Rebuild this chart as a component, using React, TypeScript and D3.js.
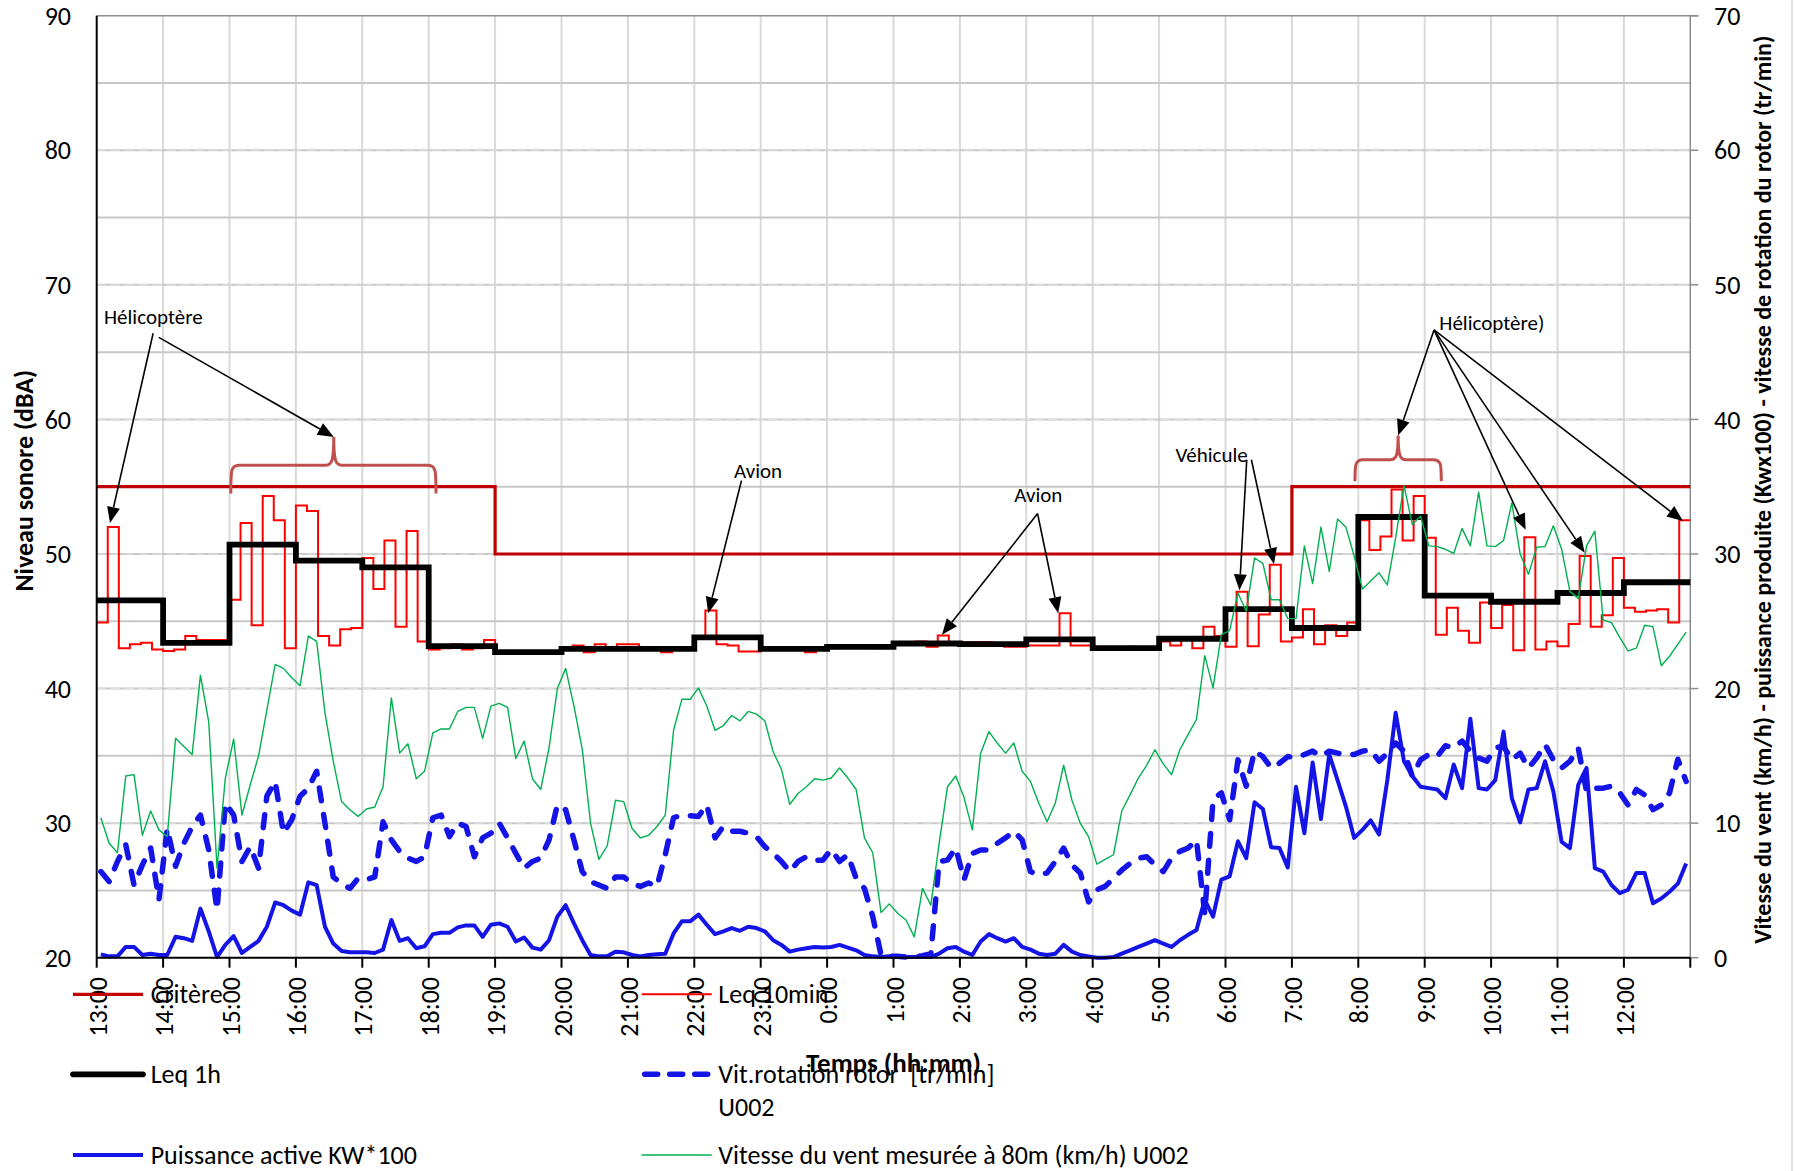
import React from "react";
import * as d3 from "d3";

// Hour labels along the time axis (24 h starting at 13:00)
const hourLabels = [
  "13:00", "14:00", "15:00", "16:00", "17:00", "18:00", "19:00", "20:00",
  "21:00", "22:00", "23:00", "0:00", "1:00", "2:00", "3:00", "4:00",
  "5:00", "6:00", "7:00", "8:00", "9:00", "10:00", "11:00", "12:00",
];

// Regulatory limit, one value per hour (dBA)
const critere = [
  55, 55, 55, 55, 55, 55,
  50, 50, 50, 50, 50, 50, 50, 50, 50, 50, 50, 50,
  55, 55, 55, 55, 55, 55,
];

// Hourly equivalent level (dBA)
const leq1h = [
  46.55, 43.4, 50.7, 49.5, 49.0, 43.15, 42.7, 42.95, 42.95, 43.8, 42.95, 43.1,
  43.35, 43.3, 43.65, 43.0, 43.7, 45.9, 44.5, 52.75, 46.9, 46.45, 47.1, 47.9,
];

// 10-minute equivalent level (dBA), six values per hour
const leq10min = [
  44.9, 52.0, 43.0, 43.3, 43.4, 42.9,
  42.8, 42.9, 43.9, 43.6, 43.6, 43.6,
  46.6, 52.3, 44.7, 54.3, 52.5, 43.0,
  53.6, 53.2, 43.9, 43.2, 44.4, 44.5,
  49.7, 47.4, 51.0, 44.6, 51.7, 43.5,
  42.9, 43.0, 43.3, 42.9, 43.0, 43.6,
  42.6, 42.7, 42.8, 42.7, 42.6, 42.8,
  43.0, 43.2, 42.7, 43.3, 42.9, 43.3,
  43.3, 43.0, 42.9, 42.7, 42.9, 42.9,
  43.9, 45.8, 43.3, 43.2, 42.75, 42.75,
  42.9, 42.9, 43.0, 42.9, 42.7, 42.9,
  43.0, 43.1, 43.1, 43.1, 43.0, 43.1,
  43.4, 43.4, 43.5, 43.1, 43.95, 43.45,
  43.45, 43.45, 43.45, 43.3, 43.1, 43.1,
  43.2, 43.2, 43.2, 45.6, 43.2, 43.2,
  43.0, 42.9, 43.0, 43.1, 42.9, 43.0,
  43.5, 43.2, 43.7, 43.0, 44.6, 43.9,
  43.1, 47.2, 43.15, 45.5, 49.2, 43.5,
  43.8, 45.9, 43.3, 44.7, 43.9, 44.9,
  52.5, 50.3, 51.3, 54.8, 51.0, 54.3,
  51.2, 44.0, 46.0, 44.3, 43.4, 46.4,
  44.5, 46.2, 42.85, 51.25, 42.9, 43.5,
  43.15, 44.8, 49.85, 44.6, 45.45, 49.7,
  46.0, 45.7, 45.8, 45.9, 44.9, 52.5,
];

// Turbine U002 records (secondary axis), 192 samples across the day
const rotorSpeed = [
  6.4, 5.65, 7.15, 8.4, 5.4, 6.9, 8.15, 4.3, 9.6, 6.8, 8.5, 9.75, 10.6, 8.0, 3.55, 11.5,
  10.6, 7.15, 8.25, 6.65, 12.0, 13.1, 9.25, 10.25, 12.0, 12.6, 13.85, 10.0, 6.0, 5.5, 5.15, 5.9, 5.8,
  6.0, 10.1, 8.75, 7.9, 7.4, 7.15, 7.5, 10.4, 10.6, 9.0, 10.0, 9.75, 7.5, 8.9, 9.25, 10.0,
  8.9, 7.75, 6.65, 7.15, 7.4, 8.75, 11.35, 11.0, 8.75, 6.4, 5.65, 5.4, 5.15, 6.0, 6.0, 5.5,
  5.3, 5.55, 5.3, 7.65, 10.4, 10.6, 10.55, 10.5, 11.35, 8.9, 9.75, 9.4, 9.4, 9.25, 9.0, 8.25,
  7.75, 7.15, 6.4, 7.15, 7.5, 7.25, 7.25, 8.05, 7.15, 7.65, 5.9, 5.15, 3.05, 0.2, 0.1, 0.1,
  0.05, 0.05, 0.15, 0.3, 7.15, 7.25, 8.15, 5.8, 7.75, 8.0, 8.0, 8.5, 8.9, 9.4, 8.75, 6.4,
  6.15, 6.3, 7.15, 8.15, 6.9, 6.3, 4.15, 5.05, 5.3, 5.9, 6.5, 7.0, 7.4, 7.5, 6.9, 6.4,
  7.4, 7.9, 8.15, 8.75, 3.3, 11.75, 12.25, 10.25, 14.7, 12.75, 15.35, 14.95, 14.1, 14.45, 14.95, 14.85,
  15.1, 15.35, 14.95, 15.35, 15.2, 15.1, 15.1, 15.35, 15.45, 14.6, 15.2, 15.95, 15.35, 13.5, 14.7, 15.1,
  14.95, 15.75, 15.6, 16.1, 15.35, 14.85, 14.6, 15.6, 15.7, 14.7, 15.2, 14.1, 14.85, 15.85, 14.7, 14.1,
  14.6, 15.6, 12.35, 12.6, 12.6, 12.75, 12.25, 11.35, 12.5, 12.1, 11.0, 11.35, 12.25, 14.75, 13.1,
];

const activePower = [
  0.25, 0.1, 0.1, 0.8, 0.8, 0.2, 0.3, 0.2, 0.2, 1.55, 1.45, 1.25, 3.65, 1.95, 0.05, 0.95,
  1.6, 0.35, 0.8, 1.25, 2.3, 4.1, 3.9, 3.5, 3.2, 5.6, 5.4, 2.3, 1.05, 0.5, 0.4, 0.4, 0.4,
  0.35, 0.6, 2.8, 1.25, 1.45, 0.7, 0.85, 1.75, 1.85, 1.85, 2.25, 2.4, 2.4, 1.55, 2.45, 2.55,
  2.3, 1.2, 1.5, 0.75, 0.6, 1.3, 3.05, 3.9, 2.55, 1.3, 0.2, 0.1, 0.1, 0.45, 0.4, 0.2,
  0.1, 0.2, 0.25, 0.3, 1.8, 2.7, 2.7, 3.2, 2.45, 1.75, 1.95, 2.2, 2.0, 2.3, 2.2, 1.95,
  1.3, 0.95, 0.45, 0.6, 0.7, 0.8, 0.75, 0.8, 0.95, 0.75, 0.55, 0.2, 0.1, 0.05, 0.1, 0.05,
  0.05, 0.05, 0.05, 0.05, 0.3, 0.7, 0.8, 0.45, 0.2, 1.2, 1.75, 1.45, 1.2, 1.45, 0.8, 0.6,
  0.3, 0.2, 0.3, 0.95, 0.45, 0.2, 0.1, 0.0, 0.0, 0.05, 0.3, 0.55, 0.8, 1.05, 1.3, 1.05,
  0.8, 1.3, 1.7, 2.05, 4.3, 3.05, 5.8, 6.05, 8.65, 7.4, 11.55, 11.05, 8.2, 8.15, 6.7, 12.7,
  9.25, 14.5, 10.3, 15.1, 13.2, 11.25, 8.9, 9.5, 10.2, 9.15, 13.2, 18.2, 14.6, 13.5, 12.7, 12.6,
  12.5, 11.85, 14.35, 12.6, 17.75, 12.6, 12.5, 13.2, 16.8, 11.85, 10.05, 12.5, 12.6, 14.6, 12.35, 8.6,
  8.15, 12.85, 14.1, 6.65, 6.4, 5.4, 4.8, 5.05, 6.3, 6.3, 4.05, 4.4, 4.9, 5.5, 7.0,
];

const windSpeed = [
  10.4, 8.5, 7.8, 13.5, 13.6, 9.1, 10.9, 9.5, 9.0, 16.3, 15.7, 15.1, 21.0, 17.5, 6.65, 13.35,
  16.25, 10.6, 12.85, 15.0, 18.4, 21.8, 21.5, 20.8, 20.2, 23.9, 23.5, 18.2, 14.6, 11.6, 11.0, 10.5, 11.05,
  11.2, 12.7, 19.3, 15.2, 15.9, 13.3, 13.85, 16.7, 17.0, 17.0, 18.3, 18.6, 18.6, 16.3, 18.7, 18.9,
  18.6, 14.8, 16.1, 13.3, 12.5, 15.6, 20.0, 21.5, 18.7, 15.5, 10.0, 7.3, 8.3, 11.7, 11.6, 9.6,
  8.9, 9.1, 9.75, 10.6, 16.9, 19.2, 19.2, 20.05, 18.7, 16.9, 17.25, 18.0, 17.6, 18.3, 18.1, 17.6,
  15.3, 14.0, 11.4, 12.2, 12.7, 13.3, 13.2, 13.35, 14.1, 13.35, 12.5, 8.9, 7.8, 3.35, 4.0, 3.3,
  2.8, 1.55, 5.15, 3.9, 8.5, 12.7, 13.5, 11.9, 9.5, 15.2, 16.8, 15.95, 15.2, 15.95, 13.85, 13.1,
  11.5, 10.1, 11.5, 14.3, 11.7, 10.0, 9.0, 6.95, 7.3, 7.65, 10.9, 12.1, 13.35, 14.3, 15.45, 14.4,
  13.6, 15.45, 16.6, 17.7, 22.45, 20.05, 24.0, 24.3, 27.1, 25.75, 29.7, 29.3, 26.6, 26.6, 25.2, 25.2,
  30.6, 27.8, 32.0, 28.7, 32.6, 32.0, 29.85, 27.4, 28.0, 28.6, 27.7, 31.2, 35.1, 32.2, 32.8, 30.6,
  30.55, 30.35, 30.05, 31.9, 30.6, 34.6, 30.6, 30.55, 31.0, 33.8, 30.0, 28.5, 30.5, 30.55, 32.1, 30.35,
  27.2, 26.7, 30.6, 31.7, 25.1, 24.9, 23.8, 22.8, 23.0, 24.7, 24.6, 21.7, 22.4, 23.3, 24.2,
];

// Event notes: label position and arrows, in (hours since 13:00, dBA)
const noteLabels = [
  { text: "Hélicoptère", h: 0.11, v: 67.6, anchor: "start" },
  { text: "Avion", h: 9.96, v: 56.2, anchor: "middle" },
  { text: "Avion", h: 14.18, v: 54.4, anchor: "middle" },
  { text: "Véhicule", h: 16.79, v: 57.4, anchor: "middle" },
  { text: "Hélicoptère)", h: 20.22, v: 67.2, anchor: "start" },
];
const noteArrows = [
  [0.85, 66.4, 0.2, 52.3],
  [0.935, 66.1, 3.57, 58.7],
  [9.71, 55.45, 9.21, 45.6],
  [14.17, 53.0, 12.73, 44.0],
  [14.17, 53.0, 14.48, 45.6],
  [17.32, 57.0, 17.21, 47.3],
  [17.39, 57.0, 17.73, 49.25],
  [20.14, 66.65, 19.6, 58.8],
  [20.14, 66.65, 21.52, 51.8],
  [20.14, 66.65, 22.41, 50.1],
  [20.14, 66.65, 23.89, 52.45],
];
const braces = [
  { h0: 2.02, h1: 5.11, hm: 3.57, vLine: 56.6, vEnd: 54.5, vTip: 58.7 },
  { h0: 18.95, h1: 20.25, hm: 19.6, vLine: 57.0, vEnd: 55.4, vTip: 58.8 },
];

const W = 1795;
const H = 1171;
const PLOT = { left: 96.7, right: 1690.3, top: 15.7, bottom: 957.7 };
const FONT = "Carlito, Lato, 'Open Sans', sans-serif";

const C_CRIT = "#C00000";
const C_LEQ10 = "#FF0000";
const C_BLUE = "#1414E6";
const C_WIND = "#00B050";
const C_BRACE = "#C0504D";

function Arrow({ x1, y1, x2, y2 }: { x1: number; y1: number; x2: number; y2: number }) {
  const a = Math.atan2(y2 - y1, x2 - x1);
  const len = 16;
  const hw = 6.5;
  const bx = x2 - len * Math.cos(a);
  const by = y2 - len * Math.sin(a);
  const p1 = [bx + hw * Math.sin(a), by - hw * Math.cos(a)];
  const p2 = [bx - hw * Math.sin(a), by + hw * Math.cos(a)];
  return (
    <g>
      <line x1={x1} y1={y1} x2={bx} y2={by} stroke="#000" strokeWidth={1.6} />
      <polygon points={`${x2},${y2} ${p1[0]},${p1[1]} ${p2[0]},${p2[1]}`} fill="#000" />
    </g>
  );
}

export default function App() {
  const x = d3.scaleLinear().domain([0, 24]).range([PLOT.left, PLOT.right]);
  const yL = d3.scaleLinear().domain([20, 90]).range([PLOT.bottom, PLOT.top]);
  const yR = d3.scaleLinear().domain([0, 70]).range([PLOT.bottom, PLOT.top]);

  const stepPath = (values: number[], perHour: number) => {
    const pts: [number, number][] = values.map((v, i) => [x(i / perHour), yL(v)]);
    pts.push([x(24), yL(values[values.length - 1])]);
    return d3.line().curve(d3.curveStepAfter)(pts) || "";
  };
  const n = rotorSpeed.length;
  const turbinePath = (values: number[]) =>
    d3
      .line<number>()
      .x((_, i) => x(((i + 0.5) * 24) / n))
      .y((v) => yR(v))(values) || "";

  const hGrid = d3.range(25, 90, 5);
  const hourTicks = d3.range(0, 25, 1);
  const leftTicks = d3.range(20, 91, 10);
  const rightTicks = d3.range(0, 71, 10);

  const bracePath = (b: typeof braces[number]) => {
    const x0 = x(b.h0), x1 = x(b.h1), xm = x(b.hm);
    const yl = yL(b.vLine), ye = yL(b.vEnd), yt = yL(b.vTip);
    const r = 8;
    return [
      `M${x0},${ye}`,
      `C${x0},${yl + 5} ${x0},${yl} ${x0 + r},${yl}`,
      `L${xm - r},${yl}`,
      `C${xm - 2},${yl} ${xm},${yl - 4} ${xm},${yt}`,
      `M${xm},${yt}`,
      `C${xm},${yl - 4} ${xm + 2},${yl} ${xm + r},${yl}`,
      `L${x1 - r},${yl}`,
      `C${x1},${yl} ${x1},${yl + 5} ${x1},${ye}`,
    ].join(" ");
  };

  const legendLeftX = 73;
  const legendRightX = 641.7;
  const legendLen = 70;
  const rowY = [994.3, 1074.3, 1155];
  const LEG_FS = 26;
  const TICK_FS = 26;

  return (
    <svg
      width={W}
      height={H}
      viewBox={`0 0 ${W} ${H}`}
      style={{ position: "absolute", left: 0, top: 0, background: "#fff", fontFamily: FONT }}
    >
      <rect x={0} y={0} width={W} height={H} fill="#fff" />
      <line x1={1792} y1={0} x2={1792} y2={H} stroke="#d9d9d9" strokeWidth={1.5} />

      {/* gridlines */}
      {hourTicks.slice(1, 24).map((h) => (
        <line key={`vg${h}`} x1={x(h)} x2={x(h)} y1={PLOT.top} y2={PLOT.bottom} stroke="#d9d9d9" strokeWidth={2} />
      ))}
      {hGrid.map((v) => (
        <line key={`hg${v}`} x1={PLOT.left} x2={PLOT.right} y1={yL(v)} y2={yL(v)} stroke="#c8c8c8" strokeWidth={2} />
      ))}
      {hGrid.filter((v) => v % 10 === 0).map((v) => (
        <line key={`hd${v}`} x1={PLOT.left} x2={PLOT.right} y1={yL(v)} y2={yL(v)} stroke="#e2e2e2" strokeWidth={1} strokeDasharray="9 5" />
      ))}
      <line x1={PLOT.left} x2={PLOT.right + 8} y1={PLOT.top} y2={PLOT.top} stroke="#8c8c8c" strokeWidth={1.5} />

      {/* right axis */}
      <line x1={PLOT.right} x2={PLOT.right} y1={PLOT.top} y2={PLOT.bottom} stroke="#8c8c8c" strokeWidth={1.5} />
      {rightTicks.map((v) => (
        <g key={`rt${v}`}>
          <line x1={PLOT.right} x2={PLOT.right + 8} y1={yR(v)} y2={yR(v)} stroke="#8c8c8c" strokeWidth={1.5} />
          <text x={1714} y={yR(v)} dy="0.35em" fontSize={TICK_FS} fill="#000">{v}</text>
        </g>
      ))}

      {/* series */}
      <path d={stepPath(critere, 1)} fill="none" stroke={C_CRIT} strokeWidth={3.2} />
      <path d={stepPath(leq10min, 6)} fill="none" stroke={C_LEQ10} strokeWidth={2} />
      <path d={stepPath(leq1h, 1)} fill="none" stroke="#000" strokeWidth={5.8} />
      <path
        d={turbinePath(rotorSpeed)}
        fill="none"
        stroke={C_BLUE}
        strokeWidth={5.5}
        strokeDasharray="13 14"
        strokeLinecap="round"
        strokeLinejoin="round"
      />
      <path d={turbinePath(activePower)} fill="none" stroke={C_BLUE} strokeWidth={4} strokeLinejoin="round" />
      <path d={turbinePath(windSpeed)} fill="none" stroke={C_WIND} strokeWidth={1.4} strokeLinejoin="round" />

      {/* left and bottom axes */}
      <line x1={PLOT.left} x2={PLOT.left} y1={PLOT.top} y2={PLOT.bottom} stroke="#000" strokeWidth={2} />
      <line x1={PLOT.left} x2={PLOT.right} y1={PLOT.bottom} y2={PLOT.bottom} stroke="#000" strokeWidth={2} />
      {hourTicks.map((h) => (
        <line key={`xt${h}`} x1={x(h)} x2={x(h)} y1={PLOT.bottom} y2={PLOT.bottom + 10} stroke="#000" strokeWidth={2} />
      ))}
      {leftTicks.map((v) => (
        <text key={`lt${v}`} x={71} y={yL(v)} dy="0.35em" fontSize={TICK_FS} textAnchor="end" fill="#000">{v}</text>
      ))}
      {hourLabels.map((lab, i) => (
        <text
          key={`xl${i}`}
          transform={`translate(${x(i) + 1},977) rotate(-90)`}
          textAnchor="end"
          dy="0.35em"
          fontSize={TICK_FS}
          fill="#000"
        >
          {lab}
        </text>
      ))}

      {/* axis titles */}
      <text
        transform={`translate(24,${(PLOT.top + PLOT.bottom) / 2 - 6}) rotate(-90)`}
        textAnchor="middle"
        dy="0.35em"
        fontSize={26}
        fontWeight="bold"
      >
        Niveau sonore (dBA)
      </text>
      <text
        transform={`translate(1763,${(PLOT.top + PLOT.bottom) / 2 + 3}) rotate(-90)`}
        textAnchor="middle"
        dy="0.35em"
        fontSize={24}
        fontWeight="bold"
      >
        Vitesse du vent (km/h) - puissance produite (Kwx100) - vitesse de rotation du rotor (tr/min)
      </text>

      {/* event notes */}
      {braces.map((b, i) => (
        <path key={`br${i}`} d={bracePath(b)} fill="none" stroke={C_BRACE} strokeWidth={3} />
      ))}
      {noteArrows.map((a, i) => (
        <Arrow key={`ar${i}`} x1={x(a[0])} y1={yL(a[1])} x2={x(a[2])} y2={yL(a[3])} />
      ))}
      {noteLabels.map((l, i) => (
        <text key={`nl${i}`} x={x(l.h)} y={yL(l.v)} dy="0.35em" fontSize={21} textAnchor={l.anchor as any} fill="#000">
          {l.text}
        </text>
      ))}

      {/* legend */}
      <g fontSize={LEG_FS} fill="#000">
        <line x1={legendLeftX} x2={legendLeftX + legendLen} y1={rowY[0]} y2={rowY[0]} stroke={C_CRIT} strokeWidth={3.2} />
        <text x={150.7} y={rowY[0]} dy="0.35em">Critère</text>
        <line x1={legendRightX} x2={legendRightX + legendLen} y1={rowY[0]} y2={rowY[0]} stroke={C_LEQ10} strokeWidth={2} />
        <text x={718.3} y={rowY[0]} dy="0.35em">Leq 10min</text>

        <line x1={legendLeftX} x2={legendLeftX + legendLen} y1={rowY[1]} y2={rowY[1]} stroke="#000" strokeWidth={5.8} strokeLinecap="round" />
        <text x={150.7} y={rowY[1]} dy="0.35em">Leq 1h</text>
        <line
          x1={legendRightX + 3}
          x2={legendRightX + legendLen - 3}
          y1={rowY[1]}
          y2={rowY[1]}
          stroke={C_BLUE}
          strokeWidth={5.5}
          strokeDasharray="13 12"
          strokeLinecap="round"
        />
        <text x={718.3} y={rowY[1]} dy="0.35em" xmlSpace="preserve">Vit.rotation rotor  [tr/min]</text>
        <text x={718.3} y={rowY[1] + 32.4} dy="0.35em">U002</text>

        <line x1={legendLeftX} x2={legendLeftX + legendLen} y1={rowY[2]} y2={rowY[2]} stroke={C_BLUE} strokeWidth={4} />
        <text x={150.7} y={rowY[2]} dy="0.35em">Puissance active KW*100</text>
        <line x1={legendRightX} x2={legendRightX + legendLen} y1={rowY[2]} y2={rowY[2]} stroke={C_WIND} strokeWidth={1.5} />
        <text x={718.3} y={rowY[2]} dy="0.35em">Vitesse du vent mesurée à 80m (km/h) U002</text>
      </g>

      <text x={x(12)} y={1063} dy="0.35em" fontSize={27} fontWeight="bold" textAnchor="middle">
        Temps (hh:mm)
      </text>
    </svg>
  );
}
